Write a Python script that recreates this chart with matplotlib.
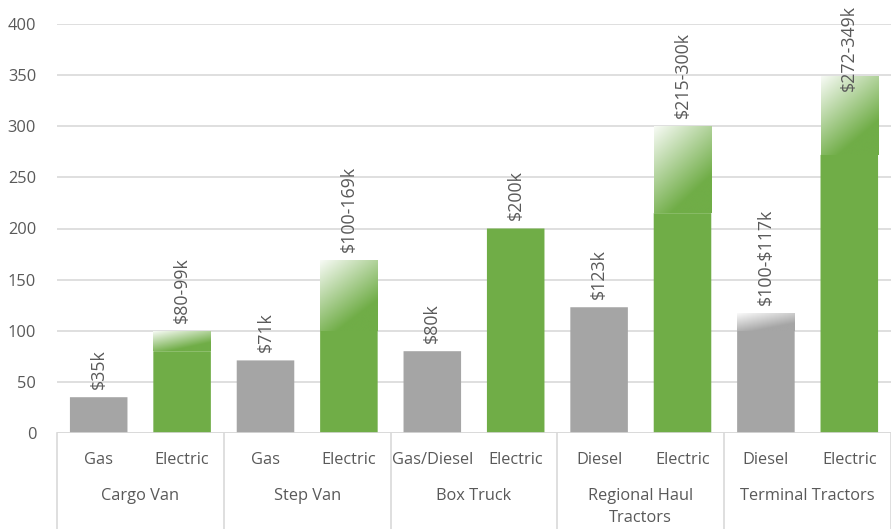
import numpy as np
import matplotlib
matplotlib.use("Agg")
import matplotlib.pyplot as plt
from matplotlib.colors import to_rgb
import matplotlib.transforms as mtransforms

groups = ["Cargo Van", "Step Van", "Box Truck", "Regional Haul\nTractors", "Terminal Tractors"]
subcats = ["Gas", "Electric", "Gas", "Electric", "Gas/Diesel", "Electric",
           "Diesel", "Electric", "Diesel", "Electric"]
is_electric = [False, True, False, True, False, True, False, True, False, True]
low_vals = [35, 80, 71, 100, 80, 200, 123, 215, 100, 272]
high_vals = [35, 99, 71, 169, 80, 200, 123, 300, 117, 349]
labels = ["$35k", "$80-99k", "$71k", "$100-169k", "$80k", "$200k",
          "$123k", "$215-300k", "$100-$117k", "$272-349k"]
yticks = [0, 50, 100, 150, 200, 250, 300, 350, 400]

plt.rcParams['font.family'] = ['Open Sans', 'DejaVu Sans']
plt.rcParams['text.parse_math'] = False
GREEN = "#70AD47"
GRAY = "#A5A5A5"
TXT = "#595959"
GRID = "#D9D9D9"
FS = 11.8
LFS = 12.8

W, H = 891, 529
fig = plt.figure(figsize=(W / 100, H / 100), dpi=100)
ax = fig.add_axes([57 / W, (H - 433) / H, 834 / W, 409 / H])

x = np.arange(len(subcats))
colors = [GREEN if e else GRAY for e in is_electric]
bars = ax.bar(x, low_vals, width=0.69, color=colors, zorder=2, snap=False,
              linewidth=0)

# gradient tops
n = 120
xx, yy = np.meshgrid(np.linspace(0, 1, n), np.linspace(0, 1, n))  # yy=0 top row
t = np.clip(0.05 + 0.5 * xx + 0.8 * yy, 0, 1)
for b, lo, hi, c in zip(bars, low_vals, high_vals, colors):
    if hi > lo:
        rgb = np.array(to_rgb(c))
        img = (1 - t[..., None]) * np.ones(3) + t[..., None] * rgb
        x0 = b.get_x()
        ax.imshow(img, extent=[x0, x0 + b.get_width(), lo, hi], aspect='auto',
                  origin='upper', zorder=2, interpolation='bilinear')

top_limit = 400
for xi, hi, lab in zip(x, high_vals, labels):
    if hi > 330:
        # no room above: anchor the text top near the figure top
        ax.annotate(lab, (xi, top_limit), xytext=(0, 14), textcoords='offset points',
                    rotation=90, ha='center', va='top', fontsize=LFS,
                    color=TXT, annotation_clip=False)
    else:
        ax.annotate(lab, (xi, hi), xytext=(0, 6), textcoords='offset points',
                    rotation=90, ha='center', va='bottom', fontsize=LFS,
                    color=TXT, annotation_clip=False)

ax.set_xlim(-0.5, len(subcats) - 0.5)
ax.set_ylim(0, 400)
ax.set_yticks(yticks)
ax.set_yticklabels([str(v) for v in yticks])
ax.tick_params(axis='y', length=0, labelsize=FS, labelcolor=TXT, pad=15)
ax.grid(axis='y', color=GRID, linewidth=1.2, zorder=0)
ax.set_axisbelow(True)
for s in ax.spines.values():
    s.set_visible(False)
ax.axhline(0, color=GRID, linewidth=1.2, zorder=3)

ax.set_xticks(x)
ax.set_xticklabels(subcats)
ax.tick_params(axis='x', length=0, labelsize=FS, labelcolor=TXT, pad=14)

trans = mtransforms.blended_transform_factory(ax.transData, ax.transAxes)
ngroups = len(groups)
for i in range(ngroups + 1):
    xb = 2 * i - 0.5
    ax.plot([xb, xb], [0, -0.3], transform=trans, color=GRID, lw=1.2, clip_on=False)
for i, g in enumerate(groups):
    ax.text(2 * i + 0.5, -0.135, g, transform=trans, ha='center', va='top',
            fontsize=FS, color=TXT, linespacing=1.5)

fig.savefig("out.png", dpi=100)
